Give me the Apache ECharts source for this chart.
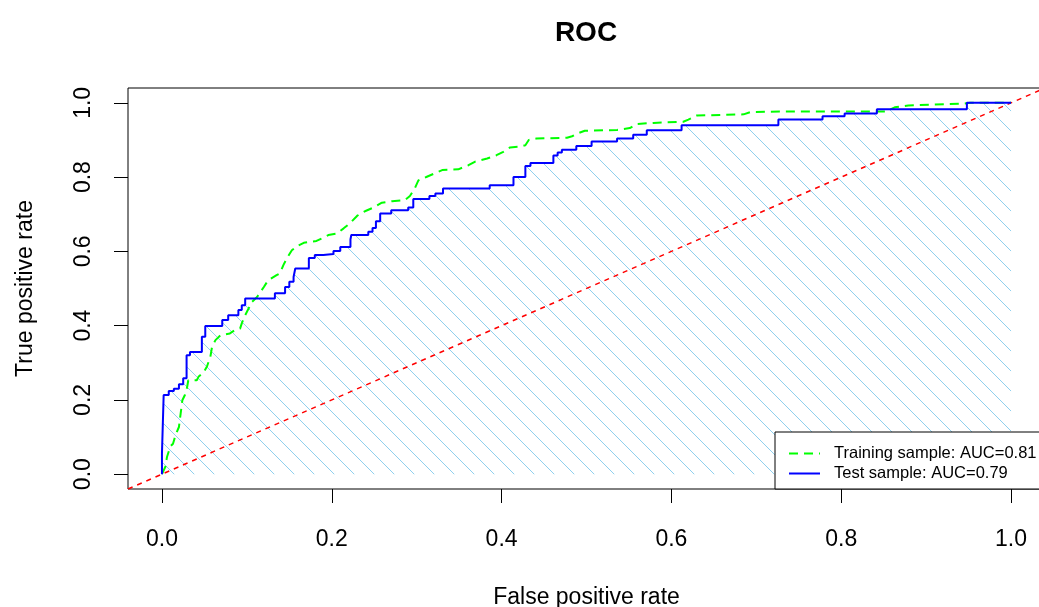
<!DOCTYPE html>
<html><head><meta charset="utf-8">
<script src="https://cdn.jsdelivr.net/npm/echarts@6/dist/echarts.min.js"></script>
<style>html,body{margin:0;padding:0;background:#fff}#c{width:1039px;height:607px}</style>
</head><body><div id="c"></div>
<script>
const chartTitle = 'ROC';
const xName = 'False positive rate';
const yName = 'True positive rate';
const tickValues = [0, 0.2, 0.4, 0.6, 0.8, 1.0];
const axisMin = -0.04, axisMax = 1.04;
const trainName = 'Training sample: AUC=0.81';
const testName = 'Test sample: AUC=0.79';

// Test sample ROC (fpr, tpr)
const testCurve = [
  [0,0],[0,0.056],[0.002,0.056],[0.002,0.213],[0.008,0.213],[0.008,0.224],[0.014,0.224],[0.014,0.230],
  [0.020,0.230],[0.020,0.242],[0.025,0.242],[0.025,0.258],[0.029,0.258],[0.029,0.320],[0.033,0.320],
  [0.033,0.329],[0.047,0.329],[0.047,0.370],[0.051,0.370],[0.051,0.399],[0.071,0.399],[0.071,0.415],
  [0.078,0.415],[0.078,0.428],[0.090,0.428],[0.090,0.442],[0.094,0.442],[0.094,0.455],[0.098,0.455],
  [0.098,0.473],[0.133,0.473],[0.133,0.487],[0.145,0.487],[0.145,0.504],[0.150,0.504],[0.150,0.518],
  [0.155,0.518],[0.155,0.531],[0.157,0.531],[0.157,0.554],[0.173,0.554],[0.173,0.582],[0.180,0.582],
  [0.180,0.590],[0.190,0.590],[0.190,0.593],[0.202,0.593],[0.202,0.601],[0.210,0.601],[0.210,0.612],
  [0.222,0.612],[0.222,0.632],[0.223,0.644],[0.243,0.644],[0.243,0.653],[0.248,0.653],[0.248,0.663],
  [0.252,0.663],[0.252,0.681],[0.257,0.681],[0.257,0.702],[0.270,0.702],[0.270,0.711],[0.290,0.711],
  [0.290,0.718],[0.296,0.718],[0.296,0.741],[0.315,0.741],[0.315,0.749],[0.322,0.749],[0.322,0.756],
  [0.331,0.756],[0.331,0.769],[0.386,0.769],[0.386,0.778],[0.414,0.778],[0.414,0.800],[0.428,0.800],
  [0.428,0.830],[0.434,0.830],[0.434,0.838],[0.461,0.838],[0.461,0.858],[0.466,0.858],[0.466,0.866],
  [0.471,0.866],[0.471,0.874],[0.488,0.874],[0.488,0.884],[0.506,0.884],[0.506,0.896],[0.536,0.896],
  [0.536,0.904],[0.555,0.904],[0.555,0.914],[0.571,0.914],[0.571,0.926],[0.612,0.926],[0.612,0.940],
  [0.726,0.940],[0.726,0.955],[0.778,0.955],[0.778,0.964],[0.804,0.964],[0.804,0.971],[0.842,0.971],
  [0.842,0.983],[0.948,0.983],[0.948,1.0],[1.0,1.0]
];

// Training sample ROC (fpr, tpr)
const trainCurve = [
  [0,0],[0.004,0.020],[0.006,0.047],[0.010,0.075],[0.013,0.082],[0.016,0.105],[0.020,0.127],
  [0.022,0.163],[0.024,0.199],[0.027,0.213],[0.029,0.226],[0.031,0.253],[0.041,0.253],[0.043,0.262],
  [0.049,0.274],[0.053,0.290],[0.057,0.316],[0.059,0.343],[0.063,0.361],[0.069,0.374],[0.080,0.379],
  [0.086,0.388],[0.092,0.392],[0.094,0.406],[0.098,0.428],[0.102,0.446],[0.106,0.464],[0.112,0.477],
  [0.120,0.504],[0.125,0.522],[0.135,0.536],[0.139,0.541],[0.143,0.563],[0.147,0.581],[0.153,0.603],
  [0.159,0.614],[0.167,0.623],[0.175,0.626],[0.182,0.628],[0.190,0.637],[0.196,0.644],[0.206,0.648],
  [0.214,0.662],[0.222,0.677],[0.230,0.696],[0.239,0.708],[0.249,0.718],[0.259,0.731],[0.271,0.735],
  [0.286,0.738],[0.292,0.749],[0.298,0.771],[0.302,0.791],[0.312,0.801],[0.322,0.811],[0.330,0.819],
  [0.349,0.821],[0.361,0.832],[0.369,0.842],[0.383,0.850],[0.394,0.859],[0.402,0.868],[0.410,0.880],
  [0.422,0.882],[0.428,0.886],[0.432,0.900],[0.441,0.904],[0.477,0.906],[0.483,0.910],[0.490,0.918],
  [0.498,0.925],[0.536,0.927],[0.551,0.932],[0.559,0.943],[0.579,0.946],[0.614,0.949],[0.620,0.955],
  [0.630,0.966],[0.685,0.969],[0.693,0.975],[0.740,0.977],[0.853,0.977],[0.863,0.988],[0.879,0.993],
  [0.944,0.998],[0.952,1.0],[1.0,1.0]
];

// Chance diagonal y = x across the full axis range
const diagonal = [[axisMin, axisMin], [axisMax, axisMax]];

const FONT = '"Liberation Sans", Arial, sans-serif';

function hatchPattern() {
  const s = 20;
  const c = document.createElement('canvas');
  c.width = s; c.height = s;
  const g = c.getContext('2d');
  g.strokeStyle = '#8fd0ee';
  g.lineWidth = 1;
  g.beginPath();
  g.moveTo(-2, -2); g.lineTo(s + 2, s + 2);
  g.moveTo(-2, s - 2); g.lineTo(2, s + 2);
  g.moveTo(s - 2, -2); g.lineTo(s + 2, 2);
  g.stroke();
  return c;
}

const chart = echarts.init(document.getElementById('c'), null, {renderer: 'canvas'});
const fmt = v => Number(v).toFixed(1);

chart.setOption({
  animation: false,
  backgroundColor: '#fff',
  title: {
    text: chartTitle, left: 581, top: 14, textAlign: 'center',
    textStyle: {fontFamily: FONT, fontSize: 28, fontWeight: 'bold', color: '#000'}
  },
  grid: {left: 128, top: 88, right: -6, bottom: 118, outerBoundsMode: 'none', containLabel: false,
         show: true, borderColor: '#000', borderWidth: 1, backgroundColor: 'transparent'},
  legend: {
    data: [trainName, testName], orient: 'vertical', left: 775, top: 432,
    itemWidth: 31, itemHeight: 14, itemGap: 3, padding: [13, 40, 7, 13],
    borderColor: '#000', borderWidth: 1, borderRadius: 0, backgroundColor: '#fff',
    selectedMode: false,
    itemStyle: {opacity: 0},
    textStyle: {fontFamily: FONT, fontSize: 16.5, color: '#000', padding: [0, 0, 0, 9]}
  },
  xAxis: {
    type: 'value', min: axisMin, max: axisMax,
    name: xName, nameLocation: 'middle', nameGap: 97,
    nameTextStyle: {fontFamily: FONT, fontSize: 23, color: '#000'},
    axisLine: {show: false, onZero: false},
    axisTick: {show: true, length: 14, customValues: tickValues, lineStyle: {color: '#000', width: 1}},
    axisLabel: {customValues: tickValues, formatter: fmt, margin: 39, fontFamily: FONT, fontSize: 23, color: '#000'},
    splitLine: {show: false}
  },
  yAxis: {
    type: 'value', min: axisMin, max: axisMax,
    name: yName, nameLocation: 'middle', nameGap: 91,
    nameTextStyle: {fontFamily: FONT, fontSize: 23, color: '#000'},
    axisLine: {show: false, onZero: false},
    axisTick: {show: true, length: 14, customValues: tickValues, lineStyle: {color: '#000', width: 1}},
    axisLabel: {customValues: tickValues, formatter: fmt, rotate: 90, margin: 33, fontFamily: FONT, fontSize: 23, color: '#000'},
    splitLine: {show: false}
  },
  series: [
    {
      name: 'hatch', type: 'line', data: testCurve, symbol: 'none', silent: true, z: 1,
      lineStyle: {width: 0, opacity: 0},
      areaStyle: {color: {image: hatchPattern(), repeat: 'repeat'}, opacity: 1, origin: 'auto'}
    },
    {
      name: 'diag', type: 'line', data: diagonal, symbol: 'none', silent: true, z: 2,
      lineStyle: {color: '#FF0000', width: 1.5, type: [5, 5]}
    },
    {
      name: trainName, type: 'line', data: trainCurve, symbol: 'none', z: 3,
      itemStyle: {color: '#00FF00'},
      lineStyle: {color: '#00FF00', width: 2, type: [9, 6]}
    },
    {
      name: testName, type: 'line', data: testCurve, symbol: 'none', z: 4,
      itemStyle: {color: '#0000FF'},
      lineStyle: {color: '#0000FF', width: 2}
    }
  ]
});
</script>
</body></html>
